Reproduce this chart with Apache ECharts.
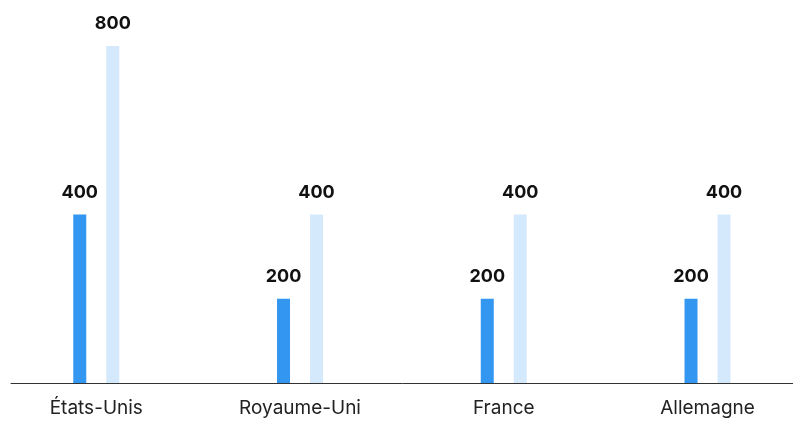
<!DOCTYPE html>
<html><head><meta charset="utf-8">
<script src="https://cdn.jsdelivr.net/npm/echarts@6/dist/echarts.min.js"></script>
<style>html,body{margin:0;padding:0;background:#fff}#c{width:793px;height:423px}</style>
</head><body><div id="c"></div>
<script>
const categories = ['États-Unis', 'Royaume-Uni', 'France', 'Allemagne'];
const seriesA = [400, 200, 200, 200];
const seriesB = [800, 400, 400, 400];
const FONT = 'Inter';
const chart = echarts.init(document.getElementById('c'));
const lbl = {show: true, position: 'top', distance: 13, fontFamily: FONT, fontWeight: 'bold', fontSize: 18, color: '#111'};
chart.setOption({
  animation: false,
  grid: [
    {left: -5.6, right: -16.4, top: 46, bottom: 40, outerBoundsMode: 'none', containLabel: false},
    {left: 11, width: 800, top: 46, bottom: 40, outerBoundsMode: 'none', containLabel: false}
  ],
  xAxis: [
    {type: 'category', data: categories, gridIndex: 0,
     axisLine: {show: false}, axisTick: {show: false},
     axisLabel: {fontFamily: FONT, fontSize: 19, color: '#222', margin: 16}},
    {type: 'category', data: categories, gridIndex: 1,
     axisLine: {show: true, lineStyle: {color: '#333', width: 1}}, axisTick: {show: false}, axisLabel: {show: false}}
  ],
  yAxis: [
    {type: 'value', min: 0, max: 800, gridIndex: 0, show: false},
    {type: 'value', min: 0, max: 800, gridIndex: 1, show: false}
  ],
  series: [
    {type: 'bar', data: seriesA, barWidth: 13, barGap: '154%', itemStyle: {color: '#3396F0'}, label: lbl},
    {type: 'bar', data: seriesB, barWidth: 13, barGap: '154%', itemStyle: {color: '#D5E9FC'}, label: lbl}
  ]
});
</script></body></html>
